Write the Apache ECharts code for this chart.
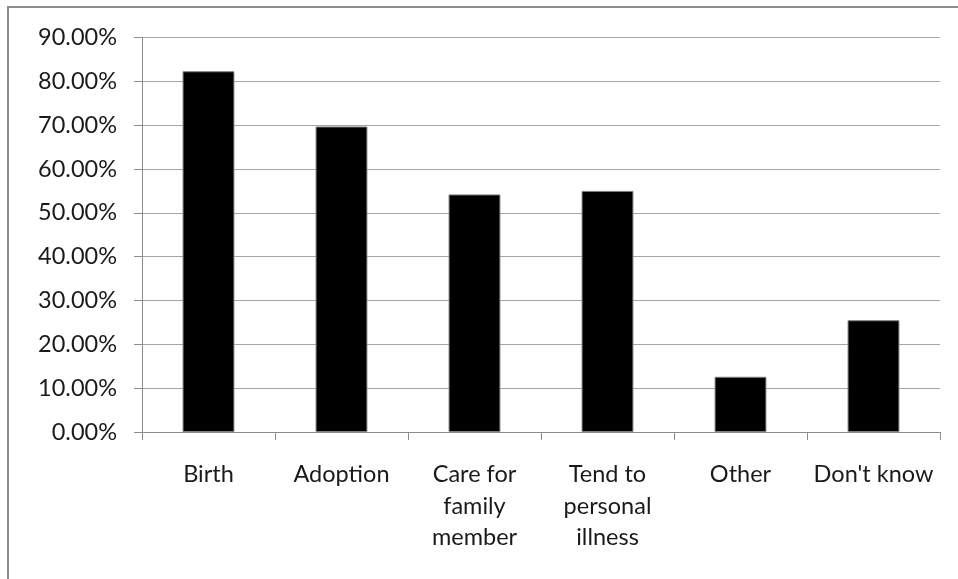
<!DOCTYPE html>
<html>
<head>
<meta charset="utf-8">
<script src="https://cdn.jsdelivr.net/npm/echarts@6/dist/echarts.min.js"></script>
<style>
	html, body { margin: 0; padding: 0; background: #fff; }
	#chart { width: 958px; height: 579px; }
</style>
</head>
<body>
<div id="chart"></div>
<script>
	// categories (line breaks as in the original axis)
	var categories = ['Birth', 'Adoption', 'Care for\nfamily\nmember', 'Tend to\npersonal\nillness', 'Other', "Don't know"];
	// share of respondents, %
	var shares = [82.3, 69.7, 54.2, 55.0, 12.6, 25.5];

	var myChart = echarts.init(document.getElementById('chart'));

	var option = {
		backgroundColor: '#fff',
		animation: false,
		textStyle: {
			fontFamily: 'Lato'
		},
		graphic: [{
			type: 'rect',
			silent: true,
			shape: { x: 8, y: 7, width: 1200, height: 1200 },
			style: { fill: 'none', stroke: '#8c8c8c', lineWidth: 2 }
		}],
		grid: {
			left: 142,
			right: 18,
			top: 37.5,
			bottom: 147
		},
		xAxis: {
			type: 'category',
			data: categories,
			axisLine: { lineStyle: { color: '#8c8c8c', width: 1 } },
			axisTick: { show: true, alignWithLabel: false, length: 8, lineStyle: { color: '#8c8c8c' } },
			axisLabel: {
				color: '#1a1a1a',
				fontSize: 23.5,
				lineHeight: 31.5,
				margin: 27,
				interval: 0
			}
		},
		yAxis: {
			type: 'value',
			min: 0,
			max: 90,
			interval: 10,
			axisLine: { show: true, lineStyle: { color: '#8c8c8c', width: 1 } },
			axisTick: { show: true, length: 8, lineStyle: { color: '#8c8c8c' } },
			splitLine: { lineStyle: { color: '#a6a6a6', width: 1 } },
			axisLabel: {
				color: '#1a1a1a',
				fontSize: 23.5,
				margin: 25,
				formatter: function (v) {
					return v.toFixed(2) + '%';
				}
			}
		},
		series: [{
			type: 'bar',
			data: shares,
			barWidth: '39%',
			itemStyle: {
				color: '#000',
				borderColor: '#7f7f7f',
				borderWidth: 1
			}
		}]
	};

	myChart.setOption(option);
</script>
</body>
</html>
